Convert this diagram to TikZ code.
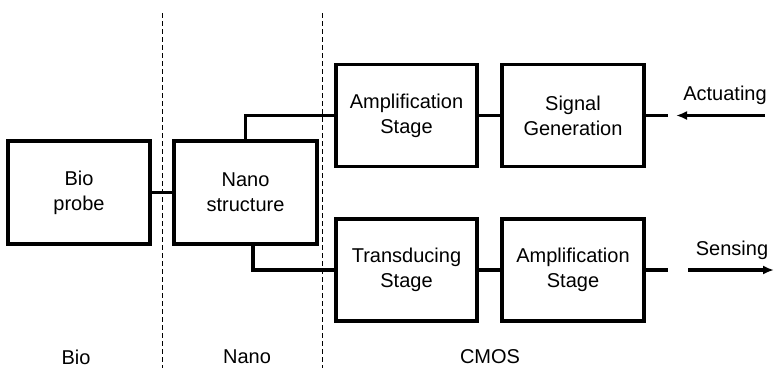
\documentclass[tikz,border=0pt]{standalone}
\usepackage{fontspec}
\setmainfont{Liberation Sans}
\usetikzlibrary{arrows.meta}
\begin{document}
\begin{tikzpicture}[x=1pt,y=-1pt,
  blk/.style={draw,line width=3.3pt,inner sep=0pt,align=center,
    font=\fontsize{20}{25}\selectfont},
  wire/.style={line width=3.3pt},
  sep/.style={line width=0.9pt,dash pattern=on 5pt off 3pt},
  lbl/.style={font=\fontsize{20}{25}\selectfont,inner sep=0pt},
  arr/.style={line width=3.3pt,-{Latex[length=11pt,width=9pt]}}]
\useasboundingbox (0,0) rectangle (774,368);
% separators
\draw[sep] (162,13) -- (162,368);
\draw[sep] (322,13) -- (322,368);
% blocks
\node[blk,minimum width=142pt,minimum height=103pt] (bio) at (79,192.5) {Bio\\probe};
\node[blk,minimum width=143pt,minimum height=103pt] (nano) at (245.5,192.5) {Nano\\structure};
\node[blk,minimum width=141pt,minimum height=102pt] (amp1) at (406.5,115.5) {Amplification\\Stage};
\node[blk,minimum width=142pt,minimum height=102pt] (sig) at (573,115.5) {Signal\\Generation};
\node[blk,minimum width=141pt,minimum height=102pt] (trans) at (406.5,270) {Transducing\\Stage};
\node[blk,minimum width=142pt,minimum height=102pt] (amp2) at (573,270) {Amplification\\Stage};
% connectors
\draw[wire] (bio.east) -- (nano.west);
\draw[wire] (nano.north) |- (amp1.west);
\draw[wire] ([xshift=7.5pt]nano.south) |- (trans.west);
\draw[wire] (amp1.east) -- (sig.west);
\draw[wire] (trans.east) -- (amp2.west);
\coordinate (a1) at (668,115.5);
\coordinate (a2) at (765,115.5);
\coordinate (a3) at (676,115.5);
\draw[wire] (sig.east) -- (a1);
\draw[arr] (a2) -- (a3);
\coordinate (s1) at (668,270);
\coordinate (s2) at (688,270);
\coordinate (s3) at (774,270);
\draw[wire] (amp2.east) -- (s1);
\draw[arr] (s2) -- (s3);
% labels
\node[lbl] (act) at (725,95) {Actuating};
\node[lbl] (sen) at (732,250) {Sensing};
\node[lbl] (lbio) at (76,357) {Bio};
\node[lbl] (lnano) at (247,357) {Nano};
\node[lbl] (lcmos) at (490,357) {CMOS};
\end{tikzpicture}
\end{document}
